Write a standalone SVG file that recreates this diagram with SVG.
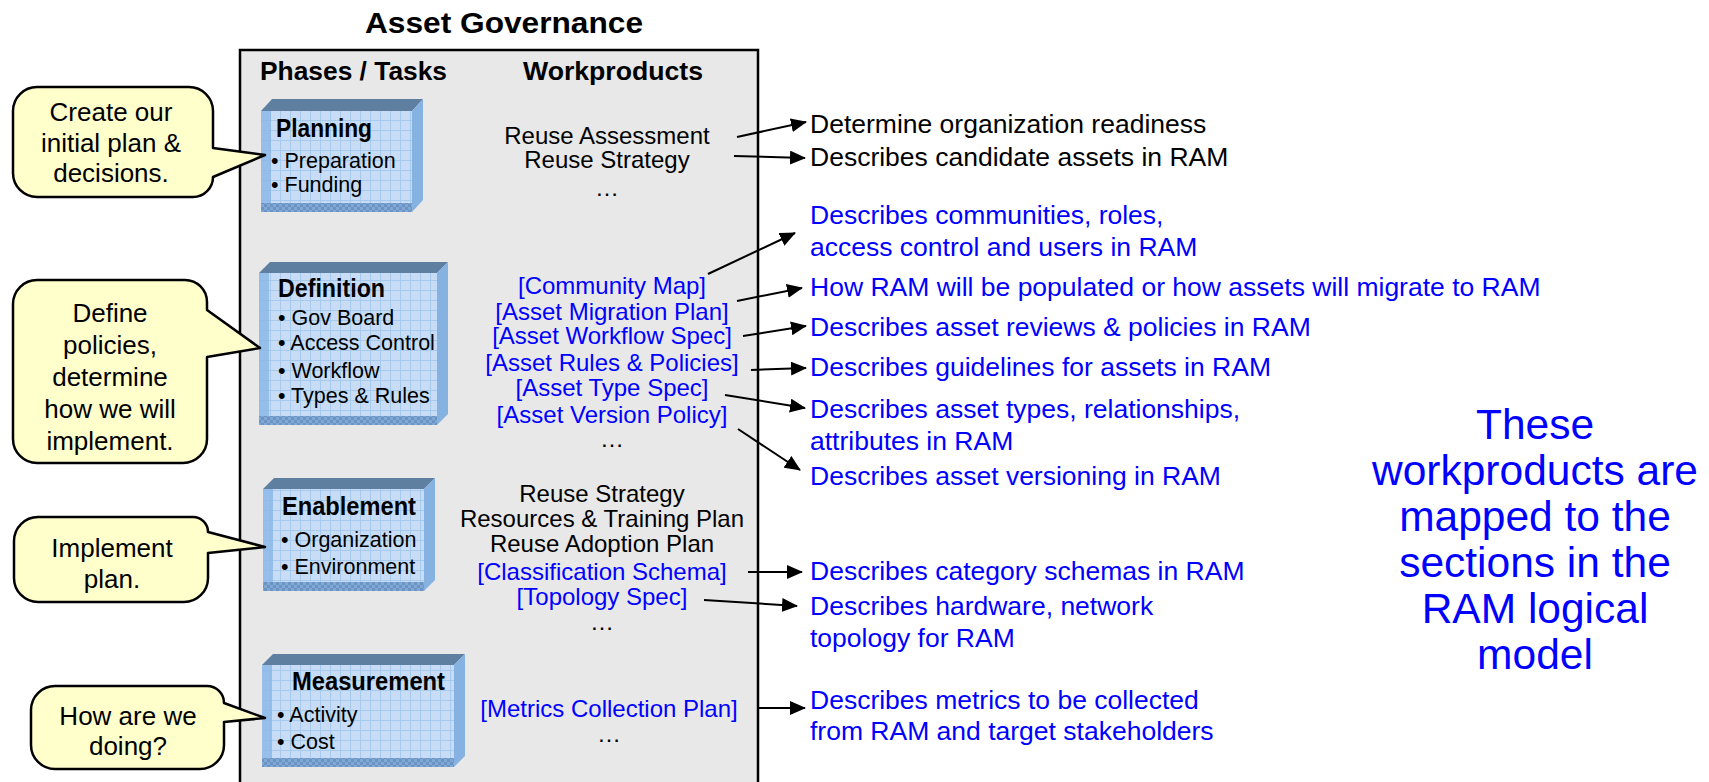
<svg xmlns="http://www.w3.org/2000/svg" width="1709" height="782" viewBox="0 0 1709 782">
<style>
text { font-family: "Liberation Sans", Arial, sans-serif; fill: #000; }
.title { font-size: 29px; font-weight: bold; text-anchor: middle; }
.hdr { font-size: 25px; font-weight: bold; }
.wp { font-size: 24px; text-anchor: middle; }
.blue { fill: #0000ff; }
.desc { font-size: 26.5px; }
.big { font-size: 42.5px; text-anchor: middle; fill: #0000ff; }
.ph { font-size: 25px; font-weight: bold; }
.bul { font-size: 21.5px; }
.callt { font-size: 26px; text-anchor: middle; }
.callout { fill: #ffffcc; stroke: #000; stroke-width: 2.5; stroke-linejoin: round; }
.conn { stroke: #000; stroke-width: 2; fill: none; marker-end: url(#arr); }
.topf { fill: #5f7fa0; }
.sidef { fill: #86b2e2; }
.strip { fill: #8cb9e8; opacity: 0.85; }
</style>
<defs>
<marker id="arr" markerUnits="userSpaceOnUse" markerWidth="16" markerHeight="14" refX="15" refY="7" orient="auto">
<path d="M0,0 L16,7 L0,14 z" fill="#000"/>
</marker>
<pattern id="grid" width="10" height="10" patternUnits="userSpaceOnUse">
<rect width="10" height="10" fill="#c8ddf5"/>
<path d="M0,0.5 H10 M0.5,0 V10" stroke="#a6c9ee" stroke-width="1"/>
</pattern>
<pattern id="chk" width="6" height="6" patternUnits="userSpaceOnUse">
<rect width="6" height="6" fill="#7fa8d6"/>
<rect width="3" height="3" fill="#6b94c2"/>
<rect x="3" y="3" width="3" height="3" fill="#6b94c2"/>
</pattern>
</defs>

<rect width="1709" height="782" fill="#ffffff"/>

<text class="title" x="504" y="33" textLength="278" lengthAdjust="spacingAndGlyphs">Asset Governance</text>

<g id="governance">
<rect x="240" y="50" width="518" height="760" fill="#e8e8e8" stroke="#000" stroke-width="2.5"/>
<text class="hdr" x="260" y="80" textLength="187" lengthAdjust="spacingAndGlyphs">Phases / Tasks</text>
<text class="hdr" x="523" y="80" textLength="180" lengthAdjust="spacingAndGlyphs">Workproducts</text>
</g>

<g id="planning">
<polygon class="topf" points="261,111 272,99 423,99 412,111"/>
<polygon class="sidef" points="412,111 423,99 423,200 412,212"/>
<rect x="261" y="111" width="151" height="101" fill="url(#grid)"/>
<rect class="strip" x="261" y="111" width="10" height="101"/>
<rect x="261" y="203" width="151" height="9" fill="url(#chk)"/>
<text class="ph" x="276" y="137" textLength="96" lengthAdjust="spacingAndGlyphs">Planning</text>
<text class="bul" x="271" y="168">• Preparation</text>
<text class="bul" x="271" y="192">• Funding</text>
</g>

<g id="definition">
<polygon class="topf" points="259,273 270,262 448,262 437,273"/>
<polygon class="sidef" points="437,273 448,262 448,414 437,425"/>
<rect x="259" y="273" width="178" height="152" fill="url(#grid)"/>
<rect class="strip" x="259" y="273" width="10" height="152"/>
<rect x="259" y="416" width="178" height="9" fill="url(#chk)"/>
<text class="ph" x="278" y="297" textLength="107" lengthAdjust="spacingAndGlyphs">Definition</text>
<text class="bul" x="278" y="325">• Gov Board</text>
<text class="bul" x="278" y="350">• Access Control</text>
<text class="bul" x="278" y="378">• Workflow</text>
<text class="bul" x="278" y="403">• Types &amp; Rules</text>
</g>

<g id="enablement">
<polygon class="topf" points="263,489 274,478 435,478 424,489"/>
<polygon class="sidef" points="424,489 435,478 435,580 424,591"/>
<rect x="263" y="489" width="161" height="102" fill="url(#grid)"/>
<rect class="strip" x="263" y="489" width="10" height="102"/>
<rect x="263" y="582" width="161" height="9" fill="url(#chk)"/>
<text class="ph" x="282" y="515" textLength="134" lengthAdjust="spacingAndGlyphs">Enablement</text>
<text class="bul" x="281" y="547">• Organization</text>
<text class="bul" x="281" y="574">• Environment</text>
</g>

<g id="measurement">
<polygon class="topf" points="262,665 273,654 465,654 454,665"/>
<polygon class="sidef" points="454,665 465,654 465,756 454,767"/>
<rect x="262" y="665" width="192" height="102" fill="url(#grid)"/>
<rect class="strip" x="262" y="665" width="10" height="102"/>
<rect x="262" y="758" width="192" height="9" fill="url(#chk)"/>
<text class="ph" x="292" y="690" textLength="153" lengthAdjust="spacingAndGlyphs">Measurement</text>
<text class="bul" x="277" y="722">• Activity</text>
<text class="bul" x="277" y="749">• Cost</text>
</g>

<g id="wp-planning">
<text class="wp" x="607" y="144">Reuse Assessment</text>
<text class="wp" x="607" y="168">Reuse Strategy</text>
<text class="wp" x="607" y="196">…</text>
</g>

<g id="wp-definition">
<text class="wp blue" x="612" y="294">[Community Map]</text>
<text class="wp blue" x="612" y="320">[Asset Migration Plan]</text>
<text class="wp blue" x="612" y="344">[Asset Workflow Spec]</text>
<text class="wp blue" x="612" y="371">[Asset Rules &amp; Policies]</text>
<text class="wp blue" x="612" y="396">[Asset Type Spec]</text>
<text class="wp blue" x="612" y="423">[Asset Version Policy]</text>
<text class="wp" x="612" y="447">…</text>
</g>

<g id="wp-enablement">
<text class="wp" x="602" y="502">Reuse Strategy</text>
<text class="wp" x="602" y="527">Resources &amp; Training Plan</text>
<text class="wp" x="602" y="552">Reuse Adoption Plan</text>
<text class="wp blue" x="602" y="580">[Classification Schema]</text>
<text class="wp blue" x="602" y="605">[Topology Spec]</text>
<text class="wp" x="602" y="630">…</text>
</g>

<g id="wp-measurement">
<text class="wp blue" x="609" y="717">[Metrics Collection Plan]</text>
<text class="wp" x="609" y="742">…</text>
</g>

<g id="descriptions">
<text class="desc" x="810" y="133">Determine organization readiness</text>
<text class="desc" x="810" y="166">Describes candidate assets in RAM</text>
<text class="desc blue" x="810" y="224">Describes communities, roles,</text>
<text class="desc blue" x="810" y="256">access control and users in RAM</text>
<text class="desc blue" x="810" y="296">How RAM will be populated or how assets will migrate to RAM</text>
<text class="desc blue" x="810" y="336">Describes asset reviews &amp; policies in RAM</text>
<text class="desc blue" x="810" y="376">Describes guidelines for assets in RAM</text>
<text class="desc blue" x="810" y="418">Describes asset types, relationships,</text>
<text class="desc blue" x="810" y="450">attributes in RAM</text>
<text class="desc blue" x="810" y="485">Describes asset versioning in RAM</text>
<text class="desc blue" x="810" y="580">Describes category schemas in RAM</text>
<text class="desc blue" x="810" y="615">Describes hardware, network</text>
<text class="desc blue" x="810" y="647">topology for RAM</text>
<text class="desc blue" x="810" y="709">Describes metrics to be collected</text>
<text class="desc blue" x="810" y="740">from RAM and target stakeholders</text>
</g>

<g id="note">
<text class="big" x="1535" y="439">These</text>
<text class="big" x="1535" y="485">workproducts are</text>
<text class="big" x="1535" y="531">mapped to the</text>
<text class="big" x="1535" y="577">sections in the</text>
<text class="big" x="1535" y="623">RAM logical</text>
<text class="big" x="1535" y="669">model</text>
</g>

<g id="connectors">
<line class="conn" x1="737" y1="137" x2="806" y2="122"/>
<line class="conn" x1="734" y1="156" x2="805" y2="158"/>
<line class="conn" x1="708" y1="274" x2="795" y2="233"/>
<line class="conn" x1="737" y1="301" x2="802" y2="288"/>
<line class="conn" x1="743" y1="336" x2="806" y2="326"/>
<line class="conn" x1="751" y1="370" x2="806" y2="368"/>
<line class="conn" x1="725" y1="395" x2="805" y2="408"/>
<line class="conn" x1="738" y1="429" x2="800" y2="470"/>
<line class="conn" x1="748" y1="572" x2="802" y2="572"/>
<line class="conn" x1="704" y1="600" x2="797" y2="606"/>
<line class="conn" x1="757" y1="708" x2="805" y2="708"/>
</g>

<g id="callout-plan">
<path class="callout" d="M37,87 H189 A24,24 0 0 1 213,111 V148 L265,155 L213,177 A20,20 0 0 1 193,197 H37 A24,24 0 0 1 13,173 V111 A24,24 0 0 1 37,87 Z"/>
<text class="callt" x="111" y="121">Create our</text>
<text class="callt" x="111" y="152">initial plan &amp;</text>
<text class="callt" x="111" y="182">decisions.</text>
</g>

<g id="callout-define">
<path class="callout" d="M37,280 H185 A22,22 0 0 1 207,302 V310 L260,348 L207,357 V439 A24,24 0 0 1 183,463 H37 A24,24 0 0 1 13,439 V304 A24,24 0 0 1 37,280 Z"/>
<text class="callt" x="110" y="322">Define</text>
<text class="callt" x="110" y="354">policies,</text>
<text class="callt" x="110" y="386">determine</text>
<text class="callt" x="110" y="418">how we will</text>
<text class="callt" x="110" y="450">implement.</text>
</g>

<g id="callout-implement">
<path class="callout" d="M38,517 H193 A15,15 0 0 1 208,532 L265,547 L208,553 V578 A24,24 0 0 1 184,602 H38 A24,24 0 0 1 14,578 V541 A24,24 0 0 1 38,517 Z"/>
<text class="callt" x="112" y="557">Implement</text>
<text class="callt" x="112" y="588">plan.</text>
</g>

<g id="callout-measure">
<path class="callout" d="M55,686 H207 A17,17 0 0 1 224,703 L265,718 L224,722 V745 A24,24 0 0 1 200,769 H55 A24,24 0 0 1 31,745 V710 A24,24 0 0 1 55,686 Z"/>
<text class="callt" x="128" y="725">How are we</text>
<text class="callt" x="128" y="755">doing?</text>
</g>
</svg>
